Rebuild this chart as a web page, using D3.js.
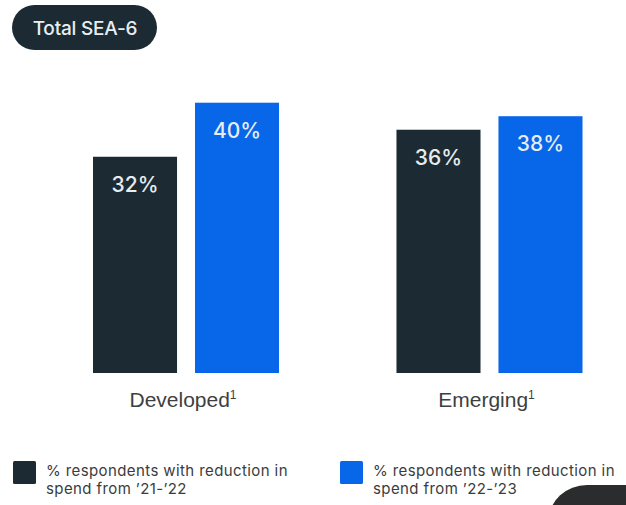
<!DOCTYPE html>
<html>
<head>
<meta charset="utf-8">
<script src="https://cdn.jsdelivr.net/npm/d3@7"></script>
<style>
  html, body { margin: 0; padding: 0; background: #ffffff; }
  svg { display: block; font-family: Inter, "Open Sans", sans-serif; }
</style>
</head>
<body>
<svg id="chart" width="626" height="505"></svg>
<script>
// Market groups along the x axis
const categories = ["Developed", "Emerging"];
// Series keys and their legend text
const seriesKeys = ["y2122", "y2223"];
const seriesLabels = [
  ["% respondents with reduction in", "spend from \u201921-\u201922"],
  ["% respondents with reduction in", "spend from \u201922-\u201923"]
];
// Share of respondents (%) per group, one array per series
const values2122 = [32, 36];
const values2223 = [40, 38];
const seriesColors = ["#1c2b33", "#0866e8"];

const svg = d3.select("#chart");

// Title pill
const pill = svg.append("g");
pill.append("rect")
  .attr("x", 12).attr("y", 5).attr("width", 145).attr("height", 45)
  .attr("rx", 22.5).attr("fill", "#1c2b33");
pill.append("text")
  .attr("x", 85).attr("y", 35)
  .attr("text-anchor", "middle")
  .attr("fill", "#e9eef1")
  .attr("font-size", 19)
  .attr("font-weight", 500)
  .attr("letter-spacing", -0.2)
  .text("Total SEA-6");

// Scales
const x0 = d3.scaleBand().domain(categories).range([93, 582.5]).paddingInner(0.387).paddingOuter(0);
const x1 = d3.scaleBand().domain(seriesKeys).range([0, x0.bandwidth()]).paddingInner(0.176);
const y = d3.scaleLinear().domain([0, 40]).range([373, 102.7]);

const rows = categories.map((c, i) => ({
  category: c,
  bars: [
    { key: seriesKeys[0], value: values2122[i], color: seriesColors[0] },
    { key: seriesKeys[1], value: values2223[i], color: seriesColors[1] }
  ]
}));

const groups = svg.append("g").selectAll("g")
  .data(rows).join("g")
  .attr("transform", d => `translate(${x0(d.category)},0)`);

groups.selectAll("rect")
  .data(d => d.bars).join("rect")
  .attr("x", d => x1(d.key))
  .attr("y", d => y(d.value))
  .attr("width", x1.bandwidth())
  .attr("height", d => y(0) - y(d.value))
  .attr("fill", d => d.color);

groups.selectAll("text.val")
  .data(d => d.bars).join("text")
  .attr("class", "val")
  .attr("x", d => x1(d.key) + x1.bandwidth() / 2)
  .attr("y", d => y(d.value) + 35)
  .attr("text-anchor", "middle")
  .attr("fill", "#e6edf0")
  .attr("font-size", 21)
  .attr("font-weight", 500)
  .text(d => d.value + "%");

// Category labels under the bars, with footnote marker
const xAxis = svg.append("g")
  .attr("transform", `translate(0,${y(0)})`)
  .call(d3.axisBottom(x0).tickSize(0).tickPadding(0));
xAxis.select(".domain").remove();
xAxis.selectAll(".tick text").remove();
xAxis.selectAll(".tick").append("text")
  .attr("y", 34)
  .attr("x", -3)
  .attr("text-anchor", "middle")
  .attr("fill", "#3d3f41")
  .attr("font-size", 21)
  .each(function(d) {
    const t = d3.select(this);
    t.append("tspan").text(d);
    t.append("tspan").attr("dy", -8).attr("font-size", 12).attr("font-weight", 500).text("1");
  });

// Legend: one two-line text per line so lines sit apart cleanly
const legendPos = [13, 340];
seriesKeys.forEach((k, i) => {
  const g = svg.append("g").attr("transform", `translate(${legendPos[i]},461)`);
  g.append("rect").attr("width", 23).attr("height", 23).attr("rx", 1.5).attr("fill", seriesColors[i]);
  g.selectAll("text").data(seriesLabels[i]).join("text")
    .attr("x", 33)
    .attr("y", (d, j) => 14.5 + j * 18)
    .attr("fill", "#3a3c3e")
    .attr("font-size", 15)
    .attr("letter-spacing", 0.4)
    .text(d => d);
});

// Corner badge partly outside the frame
svg.append("rect")
  .attr("x", 549).attr("y", 485).attr("width", 120).attr("height", 70)
  .attr("rx", 38).attr("fill", "#2b2c2e");
</script>
</body>
</html>
